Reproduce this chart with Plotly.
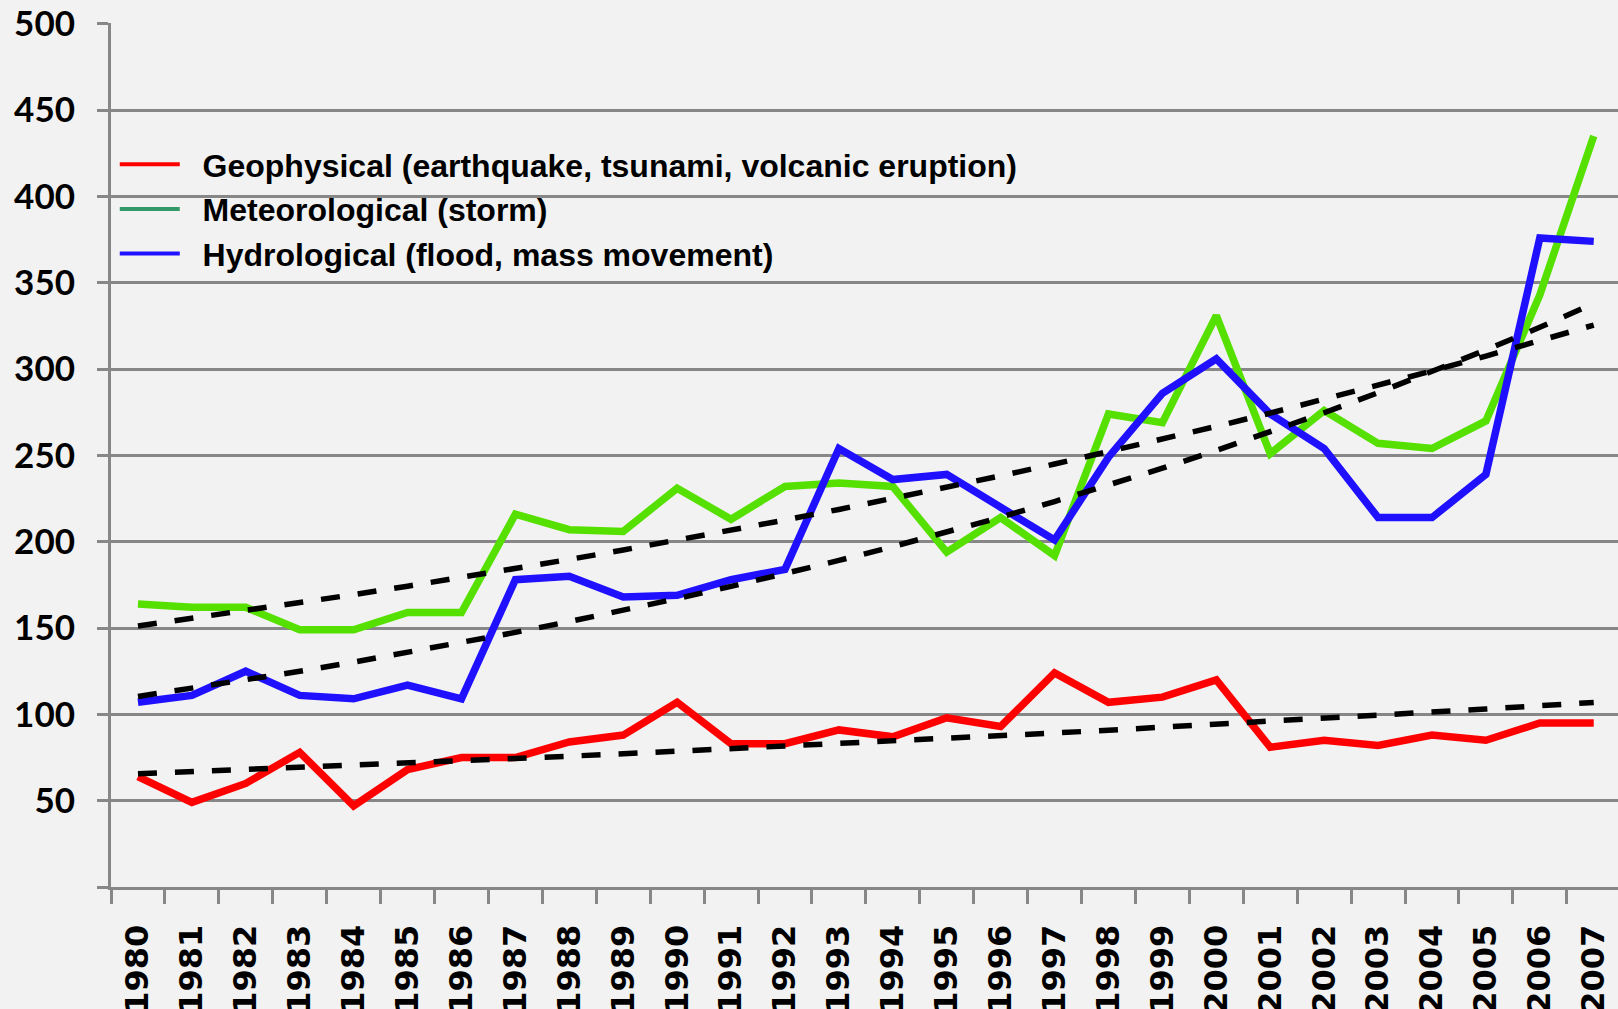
import numpy as np
import plotly.graph_objects as go

years = [str(y) for y in range(1980, 2008)]
geophysical = [64, 49, 60, 78, 47, 68, 75, 75, 84, 88, 107, 83, 83, 91, 87, 98, 93, 124,
               107, 110, 120, 81, 85, 82, 88, 85, 95, 95]
meteorological = [164, 162, 162, 149, 149, 159, 159, 216, 207, 206, 231, 213, 232, 234, 232,
                  194, 214, 192, 274, 269, 331, 251, 276, 257, 254, 270, 343, 435]
hydrological = [107, 111, 125, 111, 109, 117, 109, 178, 180, 168, 169, 178, 184, 254, 236,
                239, 220, 201, 249, 286, 306, 274, 254, 214, 214, 239, 376, 374]

y_ticks = [0, 50, 100, 150, 200, 250, 300, 350, 400, 450, 500]
y_ticktext = ["", "50", "100", "150", "200", "250", "300", "350", "400", "450", "500"]

names = ["Geophysical (earthquake, tsunami, volcanic eruption)",
         "Meteorological (storm)",
         "Hydrological (flood, mass movement)"]
line_colors = ["#ff0000", "#55e000", "#1f10ff"]
legend_colors = ["#ff0000", "#339966", "#1f10ff"]
series = [geophysical, meteorological, hydrological]


def exp_trend(vals):
    # Excel-style exponential trendline fitted to the series
    t = np.arange(len(vals))
    b, a = np.polyfit(t, np.log(vals), 1)
    return np.exp(a + b * t)


fig = go.Figure()
GRID = "#878787"

for vals, col in zip(series, line_colors):
    fig.add_trace(go.Scatter(x=years, y=vals, mode="lines", showlegend=False,
                             line=dict(color=col, width=7.5), hoverinfo="skip", cliponaxis=False))

for vals in series:
    fig.add_trace(go.Scatter(x=years, y=exp_trend(vals), mode="lines", showlegend=False,
                             line=dict(color="black", width=5.5, dash="19px,18px"),
                             hoverinfo="skip"))

# legend entries
for i, (nm, col) in enumerate(zip(names, legend_colors)):
    fig.add_trace(go.Scatter(x=[years[0]], y=[None], mode="lines", name="\u00a0\u00a0" + nm,
                             legendrank=i + 1, line=dict(color=col, width=4)))

fig.update_layout(
    width=1618, height=1009,
    margin=dict(l=111, r=0, t=23, b=122, autoexpand=False),
    paper_bgcolor="#f2f2f2", plot_bgcolor="#f2f2f2",
    showlegend=True,
    legend=dict(x=0.0025, y=0.868, xanchor="left", yanchor="top",
                bgcolor="rgba(0,0,0,0)", borderwidth=0, itemwidth=60,
                tracegroupgap=0,
                font=dict(family="Liberation Sans, Arial", size=32, color="black", weight="bold")),
    xaxis=dict(type="category", range=[-0.5, 27.45], tickson="boundaries",
               ticks="outside", ticklen=14, tickwidth=2.5, tickcolor=GRID,
               showline=True, linecolor=GRID, linewidth=3, showgrid=False,
               tickangle=-90, ticklabelstandoff=22, automargin=False,
               tickfont=dict(family="DejaVu Sans", size=32, color="black", weight="bold")),
    yaxis=dict(range=[0, 500.5], tickvals=y_ticks, ticktext=y_ticktext,
               ticks="outside", ticklen=11, tickwidth=2.5, tickcolor=GRID,
               showline=True, linecolor=GRID, linewidth=3, automargin=False,
               showgrid=True, gridcolor=GRID, gridwidth=2.5, zeroline=False,
               ticklabelstandoff=15,
               tickfont=dict(family="Lato", size=35, color="black", weight="bold")),
)

fig.write_html("out.html", config={"displayModeBar": False},
               post_script="document.body.style.margin='0';document.body.style.background='#f2f2f2';")
